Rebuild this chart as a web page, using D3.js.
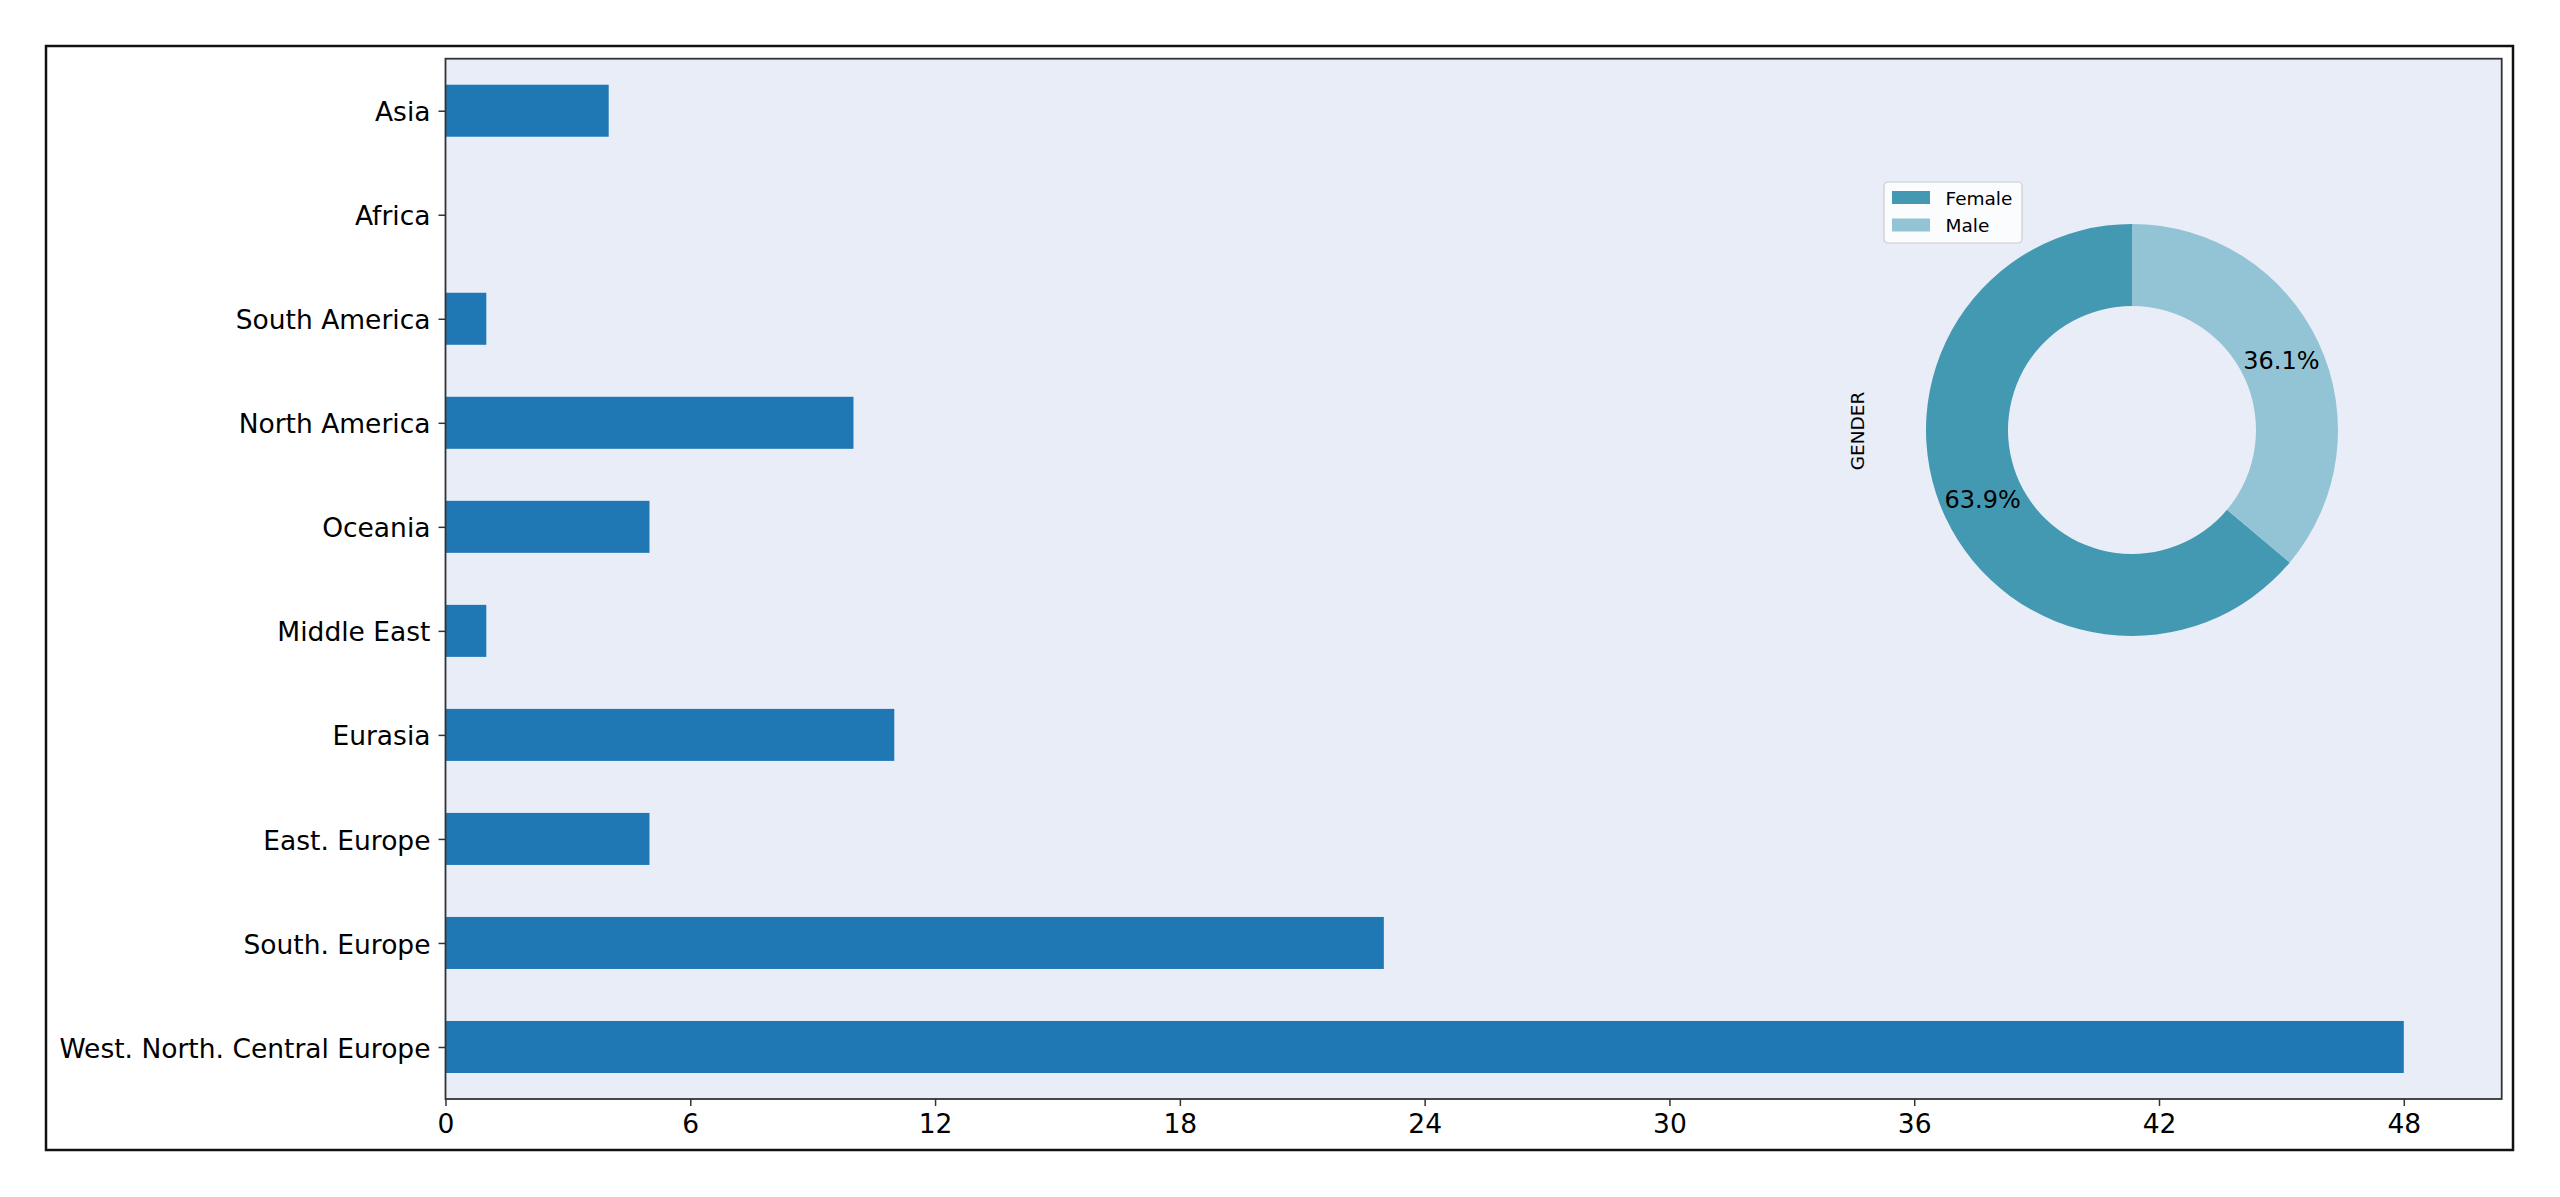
<!DOCTYPE html>
<html>
<head>
<meta charset="utf-8">
<script src="https://cdn.jsdelivr.net/npm/d3@7"></script>
<style>
	body { margin: 0; background: #fff; }
	svg { display: block; font-family: "DejaVu Sans", sans-serif; }
	.axis text { font-family: "DejaVu Sans", sans-serif; font-size: 26.5px; fill: #000; }
	.axis line { stroke: #333; stroke-width: 1.5; }
</style>
</head>
<body>
<div id="chart"></div>
<script>
// region counts (top to bottom)
const regions = ['Asia', 'Africa', 'South America', 'North America', 'Oceania',
	'Middle East', 'Eurasia', 'East. Europe', 'South. Europe', 'West. North. Central Europe'];
const counts = [4, 0, 1, 10, 5, 1, 11, 5, 23, 48];
const xTicks = [0, 6, 12, 18, 24, 30, 36, 42, 48];

// gender donut
const genders = ['Female', 'Male'];
const genderCounts = [69, 39];
const genderColors = ['#4399b1', '#93c4d5'];

const width = 2560, height = 1197;
const plot = { left: 445.5, right: 2501.7, top: 58.7, bottom: 1099 };

const svg = d3.select('#chart').append('svg')
	.attr('width', width)
	.attr('height', height);

// outer frame
svg.append('rect')
	.attr('x', 46).attr('y', 46)
	.attr('width', 2513 - 46).attr('height', 1150 - 46)
	.attr('fill', '#fff')
	.attr('stroke', '#111')
	.attr('stroke-width', 2.5);

// plot background
svg.append('rect')
	.attr('x', plot.left).attr('y', plot.top)
	.attr('width', plot.right - plot.left).attr('height', plot.bottom - plot.top)
	.attr('fill', '#e9edf8');

const xScale = d3.scaleLinear()
	.domain([0, d3.max(counts) * 1.05])
	.range([plot.left, plot.right]);
const yScale = d3.scaleLinear()
	.domain([-0.5, regions.length - 0.5])
	.range([plot.top, plot.bottom]);
const barH = yScale(0.5) - yScale(0);

svg.append('g')
	.selectAll('rect')
	.data(counts)
	.join('rect')
	.attr('x', xScale(0))
	.attr('y', (d, i) => yScale(i) - barH / 2)
	.attr('width', d => xScale(d) - xScale(0))
	.attr('height', barH)
	.attr('fill', '#1f77b4');

svg.append('g')
	.attr('class', 'axis x')
	.attr('transform', `translate(0, ${plot.bottom})`)
	.call(d3.axisBottom(xScale).tickValues(xTicks).tickSize(7).tickPadding(8))
	.call(g => g.select('.domain').remove());

svg.append('g')
	.attr('class', 'axis y')
	.attr('transform', `translate(${plot.left}, 0)`)
	.call(d3.axisLeft(yScale)
		.tickValues(d3.range(regions.length))
		.tickFormat(i => regions[i])
		.tickSize(7).tickPadding(8))
	.call(g => g.select('.domain').remove())
	.call(g => g.selectAll('text').attr('dy', '0.38em'));

// plot border
svg.append('rect')
	.attr('x', plot.left).attr('y', plot.top)
	.attr('width', plot.right - plot.left).attr('height', plot.bottom - plot.top)
	.attr('fill', 'none')
	.attr('stroke', '#333')
	.attr('stroke-width', 1.8);

// donut
const cx = 2132, cy = 430, rOut = 206, rIn = 124;
const pie = d3.pie().sort(null).startAngle(0).endAngle(-2 * Math.PI);
const arcs = pie(genderCounts);
const arc = d3.arc().innerRadius(rIn).outerRadius(rOut);
const labelArc = d3.arc().innerRadius(rOut * 0.8).outerRadius(rOut * 0.8);
const total = d3.sum(genderCounts);

const donut = svg.append('g').attr('transform', `translate(${cx}, ${cy})`);
donut.selectAll('path')
	.data(arcs)
	.join('path')
	.attr('d', arc)
	.attr('fill', (d, i) => genderColors[i]);
donut.selectAll('text')
	.data(arcs)
	.join('text')
	.attr('transform', d => `translate(${labelArc.centroid(d)})`)
	.attr('text-anchor', 'middle')
	.attr('dy', '0.36em')
	.attr('font-size', 24)
	.text(d => (d.data / total * 100).toFixed(1) + '%');

svg.append('text')
	.attr('transform', 'translate(1864, 431) rotate(-90)')
	.attr('text-anchor', 'middle')
	.attr('font-size', 18.5)
	.text('GENDER');

// legend
const legend = svg.append('g').attr('transform', 'translate(1884, 182)');
legend.append('rect')
	.attr('width', 138).attr('height', 61)
	.attr('rx', 4)
	.attr('fill', '#fff').attr('fill-opacity', 0.8)
	.attr('stroke', '#ccc').attr('stroke-width', 1.2);
genders.forEach((g, i) => {
	legend.append('rect')
		.attr('x', 8).attr('y', 9 + i * 27.5)
		.attr('width', 38).attr('height', 13)
		.attr('fill', genderColors[i]);
	legend.append('text')
		.attr('x', 61.5).attr('y', 22.5 + i * 27.5)
		.attr('font-size', 18.5)
		.text(g);
});
</script>
</body>
</html>
